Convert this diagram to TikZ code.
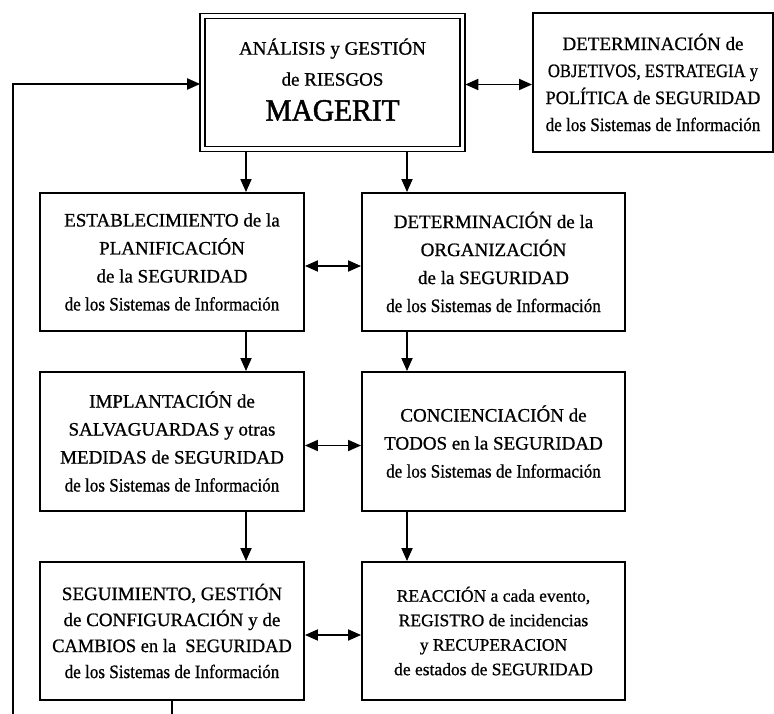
\documentclass[tikz,border=0pt]{standalone}
\usepackage{fontspec}
\setmainfont{Liberation Serif}[RawFeature={embolden=0.8}]
\newfontfamily\magfont{Liberation Serif}[RawFeature={embolden=1.6}]
\usetikzlibrary{arrows.meta}
\newcommand{\sisinfo}{\scalebox{0.9}[1]{de los Sistemas de Información}}
\begin{document}
\begin{tikzpicture}[x=1pt,y=-1pt,
  box/.style={draw, line width=1.9pt, align=center, inner sep=0pt, fill=white,
    font=\fontsize{19}{28}\selectfont},
  arr/.style={line width=1.8pt, -{Triangle[length=13pt,width=11pt]}},
  darr/.style={line width=1.8pt, {Triangle[length=13pt,width=11pt]}-{Triangle[length=13pt,width=11pt]}}]
\useasboundingbox (0,0) rectangle (774,714);

% top row
\node[box, double, double distance=3.5pt, line width=1.6pt,
      minimum width=260pt, minimum height=133pt,
      font=\fontsize{19}{31}\selectfont] (mag) at (332.5,82.5)
  {ANÁLISIS y GESTIÓN\\ de RIESGOS\\[4pt]
   {\magfont\fontsize{31}{32}\selectfont\scalebox{0.95}[1]{MAGERIT}\rule[-6pt]{0pt}{6pt}}};
\node[box, minimum width=240pt, minimum height=139pt,
      font=\fontsize{19}{27}\selectfont] (obj) at (653,82.5)
  {DETERMINACIÓN de\\ \scalebox{0.875}[1]{OBJETIVOS, ESTRATEGIA y}\\ \scalebox{0.96}[1]{POLÍTICA de SEGURIDAD}\\ \sisinfo};

% row 1
\node[box, minimum width=264pt, minimum height=138pt] (l1) at (172,262)
  {ESTABLECIMIENTO de la\\ PLANIFICACIÓN\\ de la SEGURIDAD\\ \sisinfo};
\node[box, minimum width=263pt, minimum height=138pt] (r1) at (493.5,262)
  {DETERMINACIÓN de la\\ ORGANIZACIÓN\\ de la SEGURIDAD\\ \sisinfo};

% row 2
\node[box, minimum width=264pt, minimum height=139pt] (l2) at (172,441.5)
  {IMPLANTACIÓN de\\ SALVAGUARDAS y otras\\ MEDIDAS de SEGURIDAD\\ \sisinfo};
\node[box, minimum width=263pt, minimum height=139pt] (r2) at (493.5,441.5)
  {CONCIENCIACIÓN de\\ TODOS en la SEGURIDAD\\ \sisinfo};

% row 3
\node[box, minimum width=264pt, minimum height=138pt,
      font=\fontsize{19}{26}\selectfont] (l3) at (172,631)
  {SEGUIMIENTO, GESTIÓN\\ de CONFIGURACIÓN y de\\ \scalebox{0.97}[1]{CAMBIOS en la\ \ SEGURIDAD}\\ \sisinfo};
\node[box, minimum width=263pt, minimum height=138pt,
      font=\fontsize{17.5}{24.5}\selectfont] (r3) at (493.5,631)
  {REACCIÓN a cada evento,\\ REGISTRO de incidencias\\ y RECUPERACION\\ de estados de SEGURIDAD};

% column guides
\coordinate (cl) at (246,0);
\coordinate (cr) at (407,0);
\coordinate (fb) at (13,714);
\coordinate (sb) at (172,714);

% vertical arrows
\draw[arr, shorten <=2pt] (mag.south -| cl) -- (l1.north -| cl);
\draw[arr, shorten <=2pt] (mag.south -| cr) -- (r1.north -| cr);
\draw[arr] (l1.south -| cl) -- (l2.north -| cl);
\draw[arr] (r1.south -| cr) -- (r2.north -| cr);
\draw[arr] (l2.south -| cl) -- (l3.north -| cl);
\draw[arr] (r2.south -| cr) -- (r3.north -| cr);

% horizontal double arrows
\draw[darr, shorten <=2pt] ([yshift=-2pt]mag.east) -- ([yshift=-2pt]obj.west);
\draw[darr] ([yshift=-4pt]l1.east) -- ([yshift=-4pt]r1.west);
\draw[darr] ([yshift=-4pt]l2.east) -- ([yshift=-4pt]r2.west);
\draw[darr] ([yshift=-4pt]l3.east) -- ([yshift=-4pt]r3.west);

% feedback loop
\draw[arr, shorten >=1.5pt] (fb) |- ([yshift=-1.5pt]mag.west);
\draw[line width=1.8pt] (l3.south -| sb) -- (sb);
\end{tikzpicture}
\end{document}
